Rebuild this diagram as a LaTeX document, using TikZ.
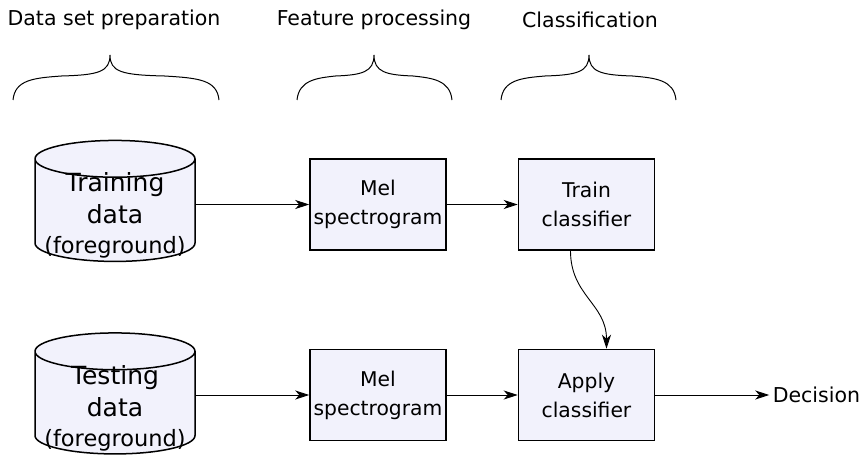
\documentclass[tikz,border=0pt]{standalone}
\usepackage{fontspec}
\setmainfont{DejaVu Sans}
\usetikzlibrary{shapes.geometric,arrows.meta}

\definecolor{boxfill}{RGB}{242,242,252}

\tikzset{
  proc/.style={draw, line width=1.5pt, fill=boxfill, minimum width=136pt, minimum height=91pt,
    align=center, inner sep=1pt, font=\fontsize{20.3}{29}\selectfont},
  store/.style={cylinder, shape border rotate=90, aspect=0.26, draw, line width=1.5pt, fill=boxfill,
    minimum width=160pt, minimum height=121pt, align=center, inner xsep=0pt, inner ysep=-15.5pt,
    font=\fontsize{25}{32}\selectfont},
  arr/.style={-{Stealth[length=14pt,width=9pt,inset=4pt]}, line width=0.9pt},
  stage/.style={font=\fontsize{20.5}{24}\selectfont}
}
% extra room above the first line of a cylinder label
\newcommand{\topgap}{\rule{0pt}{29pt}}

\begin{document}
\begin{tikzpicture}[x=1pt,y=-1pt]
\useasboundingbox (0,0) rectangle (863,460);

% stage headings
\node[stage] (prep) at (114,20) {Data set preparation};
\node[stage] (feat) at (374,20) {Feature processing};
\node[stage] (clf)  at (590,20) {Classification};

% curly brackets under the headings
\foreach \xa/\xm/\xb in {13/110/219, 297/374/452, 501/589/676} {
  \draw[line width=1pt]
    (\xa,100) .. controls (\xa+2,80) and (\xa+20,78) .. ({(\xa+\xm)/2},76)
              .. controls (\xm-12,75) and (\xm,72) .. (\xm,55)
              .. controls (\xm,72) and (\xm+12,75) .. ({(\xm+\xb)/2},76)
              .. controls (\xb-20,78) and (\xb-2,80) .. (\xb,100);
}

% training branch
\node[store] (train data) at (115,210.5) {\topgap Training\\data\\[-2pt]{\fontsize{22.5}{26}\selectfont(foreground)}};
\node[proc] (mel train) at (378,204.5) {Mel\\spectrogram};
\node[proc] (fit) at (586.5,204.5) {Train\\classifier};

% testing branch
\node[store] (test data) at (115,403) {\topgap Testing\\data\\[-2pt]{\fontsize{22.5}{26}\selectfont(foreground)}};
\node[proc] (mel test) at (378,395) {Mel\\spectrogram};
\node[proc] (apply) at (586.5,395) {Apply\\classifier};

\node[stage, anchor=west] (decision) at ([xshift=114pt]apply.east) {Decision};

\draw[arr] (mel train.west -| train data.east) -- (mel train.west);
\draw[arr] (mel train) -- (fit);
\draw[arr] (mel test.west -| test data.east) -- (mel test.west);
\draw[arr] (mel test) -- (apply);
\draw[arr] ([xshift=-16pt]fit.south) .. controls +(0,45) and +(0,-45) .. ([xshift=20pt]apply.north);
\draw[arr] (apply.east) -- (decision.west);
\end{tikzpicture}
\end{document}
